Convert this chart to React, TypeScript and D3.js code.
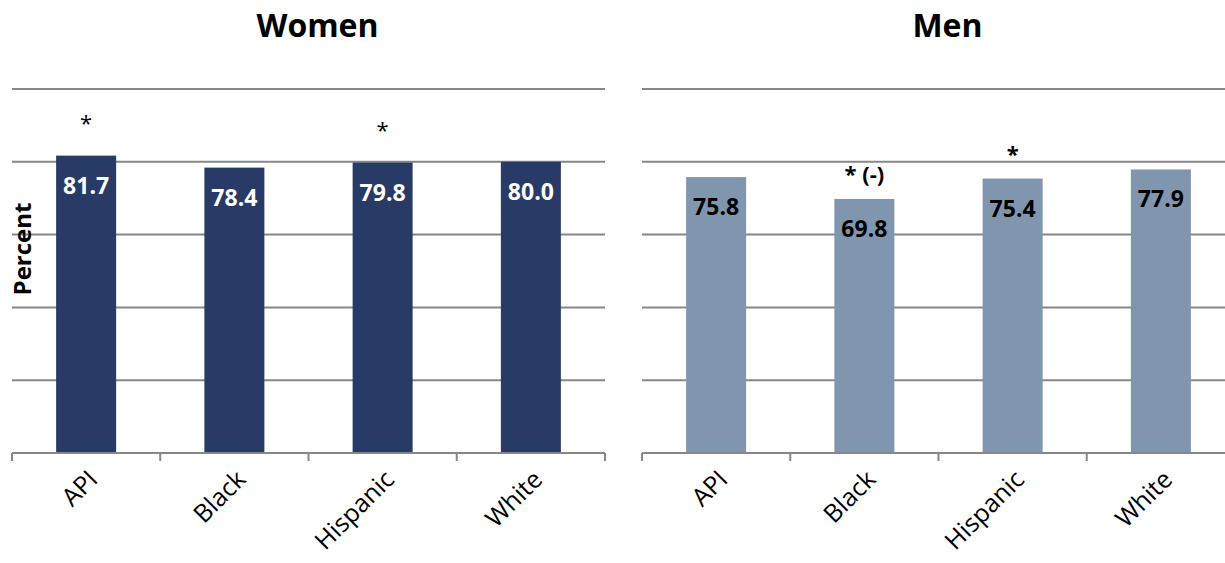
import { useEffect } from 'react';
import * as d3 from 'd3';

// values
const categories = ['API', 'Black', 'Hispanic', 'White'];
const womenValues = [81.7, 78.4, 79.8, 80.0];
const menValues = [75.8, 69.8, 75.4, 77.9];
const womenMarks = ['*', '', '*', ''];
const menMarks = ['', '* (-)', '*', ''];
const gridTicks = [20, 40, 60, 80, 100];

const W = 1225;
const H = 563;
const FONT = '"Open Sans", "DejaVu Sans", sans-serif';

type PanelProps = {
  title: string;
  values: number[];
  marks: string[];
  x0: number;
  x1: number;
  barColor: string;
  labelColor: string;
  markBold: boolean;
  markGap: number;
};

function Panel({ title, values, marks, x0, x1, barColor, labelColor, markBold, markGap }: PanelProps) {
  const x = d3.scaleBand<string>().domain(categories).range([x0, x1]);
  const y = d3.scaleLinear().domain([0, 100]).range([453, 89]);
  const barW = 60;
  const gridEnd = Math.min(x1, W);

  return (
    <g>
      <text
        x={(x0 + x1) / 2 + 9}
        y={37}
        textAnchor="middle"
        fontFamily={FONT}
        fontWeight="bold"
        fontSize={32}
        fill="#000"
      >
        {title}
      </text>

      {/* gridlines */}
      {gridTicks.map((t) => (
        <line key={t} x1={x0} x2={gridEnd} y1={y(t)} y2={y(t)} stroke="#878787" strokeWidth={2} />
      ))}

      {/* bars */}
      {categories.map((c, i) => {
        const cx = (x(c) ?? 0) + x.bandwidth() / 2;
        return (
          <g key={c}>
            <rect x={cx - barW / 2} y={y(values[i])} width={barW} height={y(0) - y(values[i])} fill={barColor} />
            <text
              x={cx}
              y={y(values[i]) + 38}
              textAnchor="middle"
              fontFamily={FONT}
              fontWeight="bold"
              fontSize={23}
              fill={labelColor}
            >
              {values[i].toFixed(1)}
            </text>
            {marks[i] && (
              <text
                x={cx}
                y={y(values[i]) - markGap}
                textAnchor="middle"
                fontFamily={FONT}
                fontWeight={markBold ? 'bold' : 'normal'}
                fontSize={22}
                fill="#000"
              >
                {marks[i]}
              </text>
            )}
          </g>
        );
      })}

      {/* x axis */}
      <line x1={x0} x2={gridEnd} y1={y(0)} y2={y(0)} stroke="#878787" strokeWidth={2} />
      {categories.concat(['end']).map((c, i) => {
        const tx = x0 + i * x.bandwidth();
        return tx <= W ? (
          <line key={c} x1={tx} x2={tx} y1={y(0)} y2={y(0) + 8} stroke="#878787" strokeWidth={2} />
        ) : null;
      })}
      {categories.map((c) => {
        const cx = (x(c) ?? 0) + x.bandwidth() / 2;
        return (
          <text
            key={c}
            transform={`translate(${cx + 13},${y(0) + 28}) rotate(-45)`}
            textAnchor="end"
            fontFamily={FONT}
            fontSize={25}
            fill="#000"
          >
            {c}
          </text>
        );
      })}
    </g>
  );
}

export default function App() {
  useEffect(() => {
    document.body.style.margin = '0';
  }, []);

  return (
    <svg width={W} height={H} style={{ display: 'block', background: '#fff' }}>
      <rect width={W} height={H} fill="#fff" />
      <Panel
        title="Women"
        values={womenValues}
        marks={womenMarks}
        x0={12}
        x1={605}
        barColor="#283b67"
        labelColor="#fff"
        markBold={false}
        markGap={25}
      />
      <Panel
        title="Men"
        values={menValues}
        marks={menMarks}
        x0={642}
        x1={1235}
        barColor="#8096af"
        labelColor="#000"
        markBold={true}
        markGap={17}
      />
      <text
        transform="translate(31,249) rotate(-90)"
        textAnchor="middle"
        fontFamily={FONT}
        fontWeight="bold"
        fontSize={24}
        fill="#000"
      >
        Percent
      </text>
    </svg>
  );
}
